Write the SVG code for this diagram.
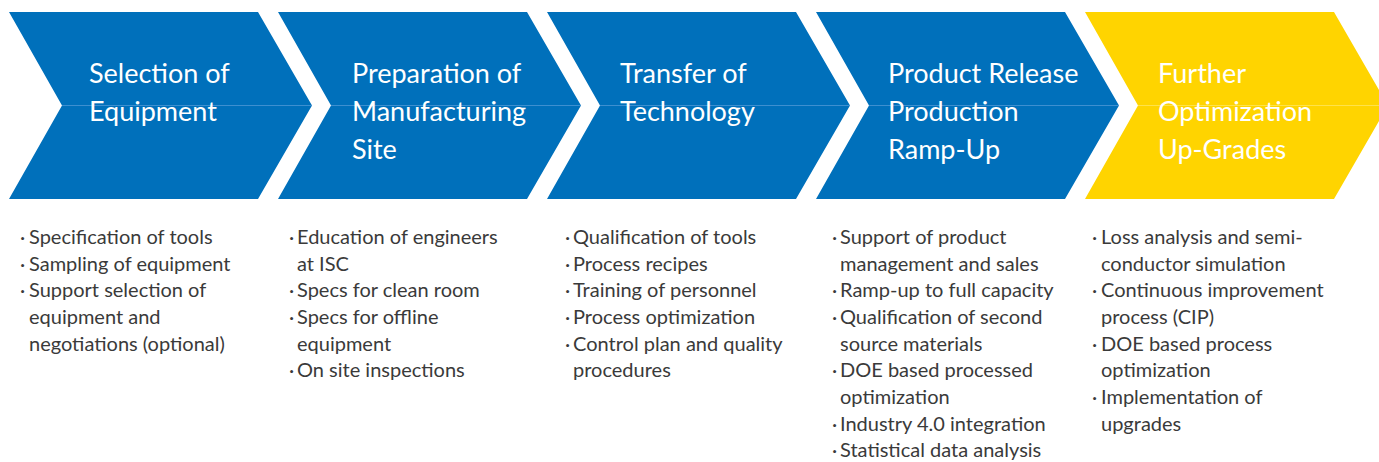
<svg xmlns="http://www.w3.org/2000/svg" width="1379" height="462" viewBox="0 0 1379 462">
<style>
.blue{fill:#0070BB}
.yellow{fill:#FFD400}
.mid{stroke-width:1}
.midb{stroke:#3D8FD0}
.midy{stroke:#FFE24A}
.title{font-family:Lato,"Open Sans",sans-serif;font-size:27px;fill:#FFFFFF}
.list{font-family:Lato,"Open Sans",sans-serif;font-size:20px;fill:#3A3A3A}
</style>
<rect width="1379" height="462" fill="#FFFFFF"/>
<g id="step1">
<path class="blue" d="M9,12 L258,12 L312,105.5 L258,199 L9,199 L62,105.5 Z"/>
<line class="mid midb" x1="62" y1="105.5" x2="312" y2="105.5"/>
<text class="title"><tspan x="89" y="83">Selection of</tspan><tspan x="89" y="121">Equipment</tspan></text>
<text class="list">
<tspan x="20" y="244">·</tspan><tspan x="29" y="244">Specification of tools</tspan>
<tspan x="20" y="270.7">·</tspan><tspan x="29" y="270.7">Sampling of equipment</tspan>
<tspan x="20" y="297.3">·</tspan><tspan x="29" y="297.3">Support selection of</tspan>
<tspan x="29" y="324">equipment and</tspan>
<tspan x="29" y="350.7">negotiations (optional)</tspan>
</text>
</g>
<g id="step2">
<path class="blue" d="M278,12 L527,12 L581,105.5 L527,199 L278,199 L331,105.5 Z"/>
<line class="mid midb" x1="331" y1="105.5" x2="581" y2="105.5"/>
<text class="title"><tspan x="352" y="83">Preparation of</tspan><tspan x="352" y="121">Manufacturing</tspan><tspan x="352" y="159">Site</tspan></text>
<text class="list">
<tspan x="289" y="244">·</tspan><tspan x="297" y="244">Education of engineers</tspan>
<tspan x="297" y="270.7">at ISC</tspan>
<tspan x="289" y="297.3">·</tspan><tspan x="297" y="297.3">Specs for clean room</tspan>
<tspan x="289" y="324">·</tspan><tspan x="297" y="324">Specs for offline</tspan>
<tspan x="297" y="350.7">equipment</tspan>
<tspan x="289" y="377.3">·</tspan><tspan x="297" y="377.3">On site inspections</tspan>
</text>
</g>
<g id="step3">
<path class="blue" d="M547,12 L796,12 L850,105.5 L796,199 L547,199 L600,105.5 Z"/>
<line class="mid midb" x1="600" y1="105.5" x2="850" y2="105.5"/>
<text class="title"><tspan x="620" y="83">Transfer of</tspan><tspan x="620" y="121">Technology</tspan></text>
<text class="list">
<tspan x="565" y="244">·</tspan><tspan x="573" y="244">Qualification of tools</tspan>
<tspan x="565" y="270.7">·</tspan><tspan x="573" y="270.7">Process recipes</tspan>
<tspan x="565" y="297.3">·</tspan><tspan x="573" y="297.3">Training of personnel</tspan>
<tspan x="565" y="324">·</tspan><tspan x="573" y="324">Process optimization</tspan>
<tspan x="565" y="350.7">·</tspan><tspan x="573" y="350.7">Control plan and quality</tspan>
<tspan x="573" y="377.3">procedures</tspan>
</text>
</g>
<g id="step4">
<path class="blue" d="M816,12 L1065,12 L1119,105.5 L1065,199 L816,199 L869,105.5 Z"/>
<line class="mid midb" x1="869" y1="105.5" x2="1119" y2="105.5"/>
<text class="title"><tspan x="888" y="83">Product Release</tspan><tspan x="888" y="121">Production</tspan><tspan x="888" y="159">Ramp-Up</tspan></text>
<text class="list">
<tspan x="832" y="244">·</tspan><tspan x="840" y="244">Support of product</tspan>
<tspan x="840" y="270.7">management and sales</tspan>
<tspan x="832" y="297.3">·</tspan><tspan x="840" y="297.3">Ramp-up to full capacity</tspan>
<tspan x="832" y="324">·</tspan><tspan x="840" y="324">Qualification of second</tspan>
<tspan x="840" y="350.7">source materials</tspan>
<tspan x="832" y="377.3">·</tspan><tspan x="840" y="377.3">DOE based processed</tspan>
<tspan x="840" y="404">optimization</tspan>
<tspan x="832" y="430.7">·</tspan><tspan x="840" y="430.7">Industry 4.0 integration</tspan>
<tspan x="832" y="457.3">·</tspan><tspan x="840" y="457.3">Statistical data analysis</tspan>
</text>
</g>
<g id="step5">
<path class="yellow" d="M1085,12 L1334,12 L1388,105.5 L1334,199 L1085,199 L1138,105.5 Z"/>
<line class="mid midy" x1="1138" y1="105.5" x2="1379" y2="105.5"/>
<text class="title"><tspan x="1158" y="83">Further</tspan><tspan x="1158" y="121">Optimization</tspan><tspan x="1158" y="159">Up-Grades</tspan></text>
<text class="list">
<tspan x="1092" y="244">·</tspan><tspan x="1101" y="244">Loss analysis and semi-</tspan>
<tspan x="1101" y="270.7">conductor simulation</tspan>
<tspan x="1092" y="297.3">·</tspan><tspan x="1101" y="297.3">Continuous improvement</tspan>
<tspan x="1101" y="324">process (CIP)</tspan>
<tspan x="1092" y="350.7">·</tspan><tspan x="1101" y="350.7">DOE based process</tspan>
<tspan x="1101" y="377.3">optimization</tspan>
<tspan x="1092" y="404">·</tspan><tspan x="1101" y="404">Implementation of</tspan>
<tspan x="1101" y="430.7">upgrades</tspan>
</text>
</g>
<g id="connectors"/>
</svg>
